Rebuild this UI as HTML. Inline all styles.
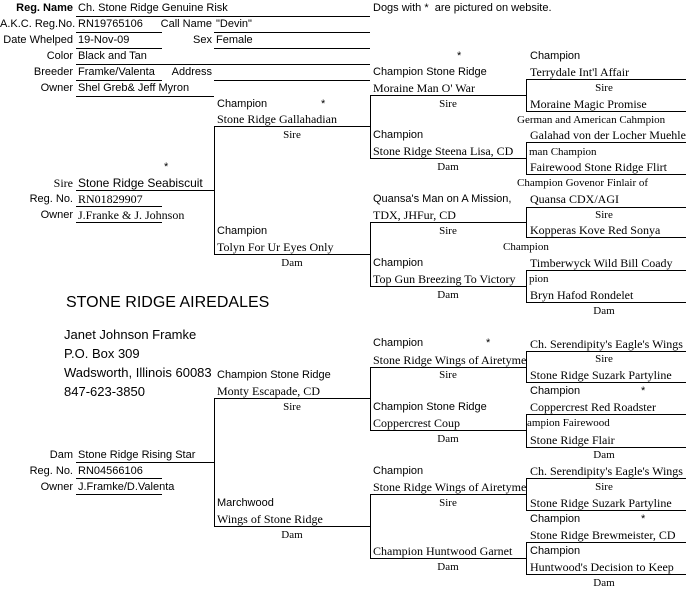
<!DOCTYPE html>
<html><head><meta charset="utf-8"><style>
body{margin:0;background:#fff;width:686px;height:591px;position:relative;overflow:hidden;color:#000}
.t{position:absolute;white-space:nowrap;line-height:14px}
.s{font-family:"Liberation Sans",sans-serif;font-size:11px}
.r{font-family:"Liberation Serif",serif;font-size:12px}
.ra{text-align:right;width:73px;left:0}
.c{text-align:center;width:120px}
svg{position:absolute;left:0;top:0}
</style></head><body>
<svg width="686" height="591" stroke="#000" stroke-width="1" shape-rendering="crispEdges">
<line x1="76" y1="16.5" x2="370" y2="16.5"/>
<line x1="76" y1="32.5" x2="162" y2="32.5"/><line x1="214" y1="32.5" x2="370" y2="32.5"/>
<line x1="76" y1="48.5" x2="162" y2="48.5"/><line x1="214" y1="48.5" x2="370" y2="48.5"/>
<line x1="76" y1="64.5" x2="370" y2="64.5"/>
<line x1="76" y1="80.5" x2="162" y2="80.5"/><line x1="214" y1="80.5" x2="370" y2="80.5"/>
<line x1="76" y1="96.5" x2="214" y2="96.5"/>
<line x1="76" y1="190.5" x2="214" y2="190.5"/>
<line x1="76" y1="206.5" x2="162" y2="206.5"/>
<line x1="76" y1="222.5" x2="162" y2="222.5"/>
<line x1="214.5" y1="126" x2="214.5" y2="255"/>
<line x1="214" y1="126.5" x2="370" y2="126.5"/><line x1="214" y1="254.5" x2="370" y2="254.5"/>
<line x1="370.5" y1="95" x2="370.5" y2="159"/><line x1="370.5" y1="222" x2="370.5" y2="287"/>
<line x1="370" y1="95.5" x2="527" y2="95.5"/><line x1="370" y1="158.5" x2="527" y2="158.5"/>
<line x1="370" y1="222.5" x2="527" y2="222.5"/><line x1="370" y1="286.5" x2="527" y2="286.5"/>
<line x1="526.5" y1="79" x2="526.5" y2="112"/><line x1="526.5" y1="142" x2="526.5" y2="175"/>
<line x1="526.5" y1="207" x2="526.5" y2="238"/><line x1="526.5" y1="270" x2="526.5" y2="303"/>
<line x1="527" y1="79.5" x2="686" y2="79.5"/><line x1="527" y1="111.5" x2="686" y2="111.5"/>
<line x1="527" y1="142.5" x2="686" y2="142.5"/><line x1="527" y1="174.5" x2="686" y2="174.5"/>
<line x1="527" y1="207.5" x2="686" y2="207.5"/><line x1="527" y1="237.5" x2="686" y2="237.5"/>
<line x1="527" y1="270.5" x2="686" y2="270.5"/><line x1="527" y1="302.5" x2="686" y2="302.5"/>
<line x1="76" y1="462.5" x2="214" y2="462.5"/>
<line x1="76" y1="478.5" x2="162" y2="478.5"/>
<line x1="76" y1="494.5" x2="162" y2="494.5"/>
<line x1="214.5" y1="398" x2="214.5" y2="527"/>
<line x1="214" y1="398.5" x2="370" y2="398.5"/><line x1="214" y1="526.5" x2="370" y2="526.5"/>
<line x1="370.5" y1="367" x2="370.5" y2="431"/><line x1="370.5" y1="494" x2="370.5" y2="559"/>
<line x1="370" y1="367.5" x2="527" y2="367.5"/><line x1="370" y1="430.5" x2="527" y2="430.5"/>
<line x1="370" y1="494.5" x2="527" y2="494.5"/><line x1="370" y1="558.5" x2="527" y2="558.5"/>
<line x1="526.5" y1="351" x2="526.5" y2="383"/><line x1="526.5" y1="414" x2="526.5" y2="448"/>
<line x1="526.5" y1="478" x2="526.5" y2="511"/><line x1="526.5" y1="542" x2="526.5" y2="575"/>
<line x1="527" y1="351.5" x2="686" y2="351.5"/><line x1="527" y1="382.5" x2="686" y2="382.5"/>
<line x1="527" y1="414.5" x2="686" y2="414.5"/><line x1="527" y1="447.5" x2="686" y2="447.5"/>
<line x1="527" y1="478.5" x2="686" y2="478.5"/><line x1="527" y1="510.5" x2="686" y2="510.5"/>
<line x1="527" y1="542.5" x2="686" y2="542.5"/><line x1="527" y1="574.5" x2="686" y2="574.5"/>
</svg>

<div class="t s ra" style="top:1px;font-weight:bold">Reg. Name</div><div class="t s" style="left:78px;top:1px">Ch. Stone Ridge Genuine Risk</div>
<div class="t s" style="left:373px;top:1px">Dogs with *&nbsp; are pictured on website.</div>
<div class="t s ra" style="top:17px">A.K.C. Reg.No.</div><div class="t s" style="left:78px;top:17px">RN19765106</div>
<div class="t s" style="left:140px;width:72px;text-align:right;top:17px">Call Name</div><div class="t s" style="left:216px;top:17px">"Devin"</div>
<div class="t s ra" style="top:33px">Date Whelped</div><div class="t s" style="left:78px;top:33px">19-Nov-09</div>
<div class="t s" style="left:140px;width:72px;text-align:right;top:33px">Sex</div><div class="t s" style="left:216px;top:33px">Female</div>
<div class="t s ra" style="top:49px">Color</div><div class="t s" style="left:78px;top:49px">Black and Tan</div>
<div class="t s ra" style="top:65px">Breeder</div><div class="t s" style="left:78px;top:65px">Framke/Valenta</div>
<div class="t s" style="left:140px;width:72px;text-align:right;top:65px">Address</div>
<div class="t s ra" style="top:81px">Owner</div><div class="t s" style="left:78px;top:81px">Shel Greb&amp; Jeff Myron</div>

<div class="t s" style="left:217px;top:97px">Champion</div><div class="t s" style="left:321px;top:97px">*</div>
<div class="t r" style="left:217px;top:112px">Stone Ridge Gallahadian</div>
<div class="t r c" style="left:232px;top:128px;font-size:11px">Sire</div>
<div class="t s" style="left:164px;top:160px">*</div>
<div class="t r ra" style="top:176px">Sire</div><div class="t s" style="left:78px;top:176px;font-size:12px">Stone Ridge Seabiscuit</div>
<div class="t s ra" style="top:192px">Reg. No.</div><div class="t r" style="left:78px;top:192px">RN01829907</div>
<div class="t s ra" style="top:208px">Owner</div><div class="t r" style="left:78px;top:208px">J.Franke &amp; J. Johnson</div>
<div class="t s" style="left:217px;top:224px">Champion</div>
<div class="t r" style="left:217px;top:240px">Tolyn For Ur Eyes Only</div>
<div class="t r c" style="left:232px;top:256px;font-size:11px">Dam</div>

<div class="t s" style="left:457px;top:49px">*</div>
<div class="t s" style="left:373px;top:65px">Champion Stone Ridge</div>
<div class="t r" style="left:373px;top:81px">Moraine Man O' War</div>
<div class="t r c" style="left:388px;top:97px;font-size:11px">Sire</div>
<div class="t s" style="left:373px;top:128px">Champion</div>
<div class="t r" style="left:373px;top:144px">Stone Ridge Steena Lisa, CD</div>
<div class="t r c" style="left:388px;top:160px;font-size:11px">Dam</div>
<div class="t s" style="left:373px;top:192px">Quansa's Man on A Mission,</div>
<div class="t r" style="left:373px;top:208px">TDX, JHFur, CD</div>
<div class="t r c" style="left:388px;top:224px;font-size:11px">Sire</div>
<div class="t s" style="left:373px;top:256px">Champion</div>
<div class="t r" style="left:373px;top:272px">Top Gun Breezing To Victory</div>
<div class="t r c" style="left:388px;top:288px;font-size:11px">Dam</div>

<div class="t s" style="left:530px;top:49px">Champion</div>
<div class="t r" style="left:530px;top:65px">Terrydale Int'l Affair</div>
<div class="t r c" style="left:544px;top:81px;font-size:11px">Sire</div>
<div class="t r" style="left:530px;top:97px">Moraine Magic Promise</div>
<div class="t r" style="left:517px;top:113px;font-size:11px">German and American Cahmpion</div>
<div class="t r" style="left:530px;top:128px">Galahad von der Locher Muehle</div>
<div class="t r" style="left:529px;top:145px;font-size:11px">man Champion</div>
<div class="t r" style="left:530px;top:160px">Fairewood Stone Ridge Flirt</div>
<div class="t r" style="left:517px;top:176px;font-size:11px">Champion Govenor Finlair of</div>
<div class="t r" style="left:530px;top:192px">Quansa CDX/AGI</div>
<div class="t r c" style="left:544px;top:208px;font-size:11px">Sire</div>
<div class="t r" style="left:530px;top:223px">Kopperas Kove Red Sonya</div>
<div class="t r" style="left:503px;top:240px;font-size:11px">Champion</div>
<div class="t r" style="left:530px;top:256px">Timberwyck Wild Bill Coady</div>
<div class="t r" style="left:529px;top:272px;font-size:11px">pion</div>
<div class="t r" style="left:530px;top:288px">Bryn Hafod Rondelet</div>
<div class="t r c" style="left:544px;top:304px;font-size:11px">Dam</div>

<div class="t s" style="left:66px;top:294px;font-size:16px;line-height:18px">STONE RIDGE AIREDALES</div>
<div class="t s" style="left:64px;top:327px;font-size:13px;line-height:16px">Janet Johnson Framke</div>
<div class="t s" style="left:64px;top:346px;font-size:13px;line-height:16px">P.O. Box 309</div>
<div class="t s" style="left:64px;top:365px;font-size:13px;line-height:16px">Wadsworth, Illinois 60083</div>
<div class="t s" style="left:64px;top:384px;font-size:13px;line-height:16px">847-623-3850</div>

<div class="t s" style="left:217px;top:368px">Champion Stone Ridge</div>
<div class="t r" style="left:217px;top:384px">Monty Escapade, CD</div>
<div class="t r c" style="left:232px;top:400px;font-size:11px">Sire</div>
<div class="t s ra" style="top:448px">Dam</div><div class="t s" style="left:78px;top:448px">Stone Ridge Rising Star</div>
<div class="t s ra" style="top:464px">Reg. No.</div><div class="t s" style="left:78px;top:464px">RN04566106</div>
<div class="t s ra" style="top:480px">Owner</div><div class="t s" style="left:78px;top:480px">J.Framke/D.Valenta</div>
<div class="t s" style="left:217px;top:496px">Marchwood</div>
<div class="t r" style="left:217px;top:512px">Wings of Stone Ridge</div>
<div class="t r c" style="left:232px;top:528px;font-size:11px">Dam</div>

<div class="t s" style="left:373px;top:336px">Champion</div><div class="t s" style="left:486px;top:336px">*</div>
<div class="t r" style="left:373px;top:353px">Stone Ridge Wings of Airetyme</div>
<div class="t r c" style="left:388px;top:368px;font-size:11px">Sire</div>
<div class="t s" style="left:373px;top:400px">Champion Stone Ridge</div>
<div class="t r" style="left:373px;top:416px">Coppercrest Coup</div>
<div class="t r c" style="left:388px;top:432px;font-size:11px">Dam</div>
<div class="t s" style="left:373px;top:464px">Champion</div>
<div class="t r" style="left:373px;top:480px">Stone Ridge Wings of Airetyme</div>
<div class="t r c" style="left:388px;top:496px;font-size:11px">Sire</div>
<div class="t r" style="left:373px;top:544px">Champion Huntwood Garnet</div>
<div class="t r c" style="left:388px;top:560px;font-size:11px">Dam</div>

<div class="t r" style="left:530px;top:337px">Ch. Serendipity's Eagle's Wings</div>
<div class="t r c" style="left:544px;top:352px;font-size:11px">Sire</div>
<div class="t r" style="left:530px;top:368px">Stone Ridge Suzark Partyline</div>
<div class="t s" style="left:530px;top:384px">Champion</div><div class="t s" style="left:641px;top:384px">*</div>
<div class="t r" style="left:530px;top:400px">Coppercrest Red Roadster</div>
<div class="t r" style="left:527px;top:416px;font-size:11px">ampion Fairewood</div>
<div class="t r" style="left:530px;top:433px">Stone Ridge Flair</div>
<div class="t r c" style="left:544px;top:448px;font-size:11px">Dam</div>
<div class="t r" style="left:530px;top:464px">Ch. Serendipity's Eagle's Wings</div>
<div class="t r c" style="left:544px;top:480px;font-size:11px">Sire</div>
<div class="t r" style="left:530px;top:496px">Stone Ridge Suzark Partyline</div>
<div class="t s" style="left:530px;top:512px">Champion</div><div class="t s" style="left:641px;top:512px">*</div>
<div class="t r" style="left:530px;top:528px">Stone Ridge Brewmeister, CD</div>
<div class="t s" style="left:530px;top:544px">Champion</div>
<div class="t r" style="left:530px;top:560px">Huntwood's Decision to Keep</div>
<div class="t r c" style="left:544px;top:576px;font-size:11px">Dam</div>
</body></html>
